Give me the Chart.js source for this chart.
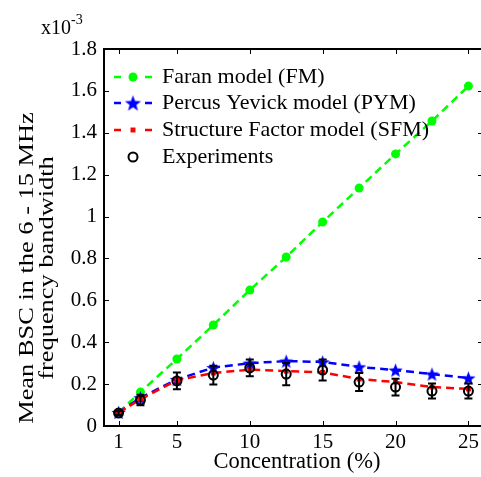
<!DOCTYPE html>
<html>
<head>
<meta charset="utf-8">
<script src="https://cdn.jsdelivr.net/npm/chart.js@4.4.1/dist/chart.umd.min.js"></script>
<style>
html,body{margin:0;padding:0;background:#fff;overflow:hidden;}
#wrap{width:481px;height:477px;overflow:hidden;position:relative;}
canvas{display:block;}
</style>
</head>
<body>
<div id="wrap"><canvas id="c" width="484" height="477"></canvas></div>
<script>
// ---- data (BSC values in units of 1e-3) ----
const concentration = [1, 2.5, 5, 7.5, 10, 12.5, 15, 17.5, 20, 22.5, 25];
const faranFM      = [0.065, 0.162, 0.320, 0.482, 0.649, 0.807, 0.974, 1.136, 1.299, 1.456, 1.623];
const percusPYM    = [0.065, 0.135, 0.222, 0.279, 0.300, 0.310, 0.306, 0.282, 0.267, 0.248, 0.229];
const structSFM    = [0.063, 0.128, 0.218, 0.253, 0.269, 0.262, 0.256, 0.224, 0.210, 0.186, 0.177];
const experiments  = [0.062, 0.124, 0.215, 0.243, 0.277, 0.248, 0.267, 0.210, 0.186, 0.167, 0.167];
const expError     = [0.010, 0.025, 0.040, 0.045, 0.040, 0.053, 0.050, 0.043, 0.040, 0.036, 0.036];
const xTickLabels  = [1, 5, 10, 15, 20, 25];
const yTickLabels  = [0, 0.2, 0.4, 0.6, 0.8, 1, 1.2, 1.4, 1.6, 1.8];
const seriesNames  = ['Faran model (FM)', 'Percus Yevick model (PYM)', 'Structure Factor model (SFM)', 'Experiments'];
const yTitleLines  = ['Mean BSC in the 6 - 15 MHz', 'frequency bandwidth'];
const xTitle       = 'Concentration (%)';

const FONT = '"Liberation Serif", "Times New Roman", serif';

function makeStar(color, r) {
  const s = Math.ceil(r * 2 + 2);
  const cv = document.createElement('canvas');
  cv.width = s; cv.height = s;
  const g = cv.getContext('2d');
  g.fillStyle = color;
  g.beginPath();
  for (let i = 0; i < 10; i++) {
    const rr = i % 2 === 0 ? r : r * 0.42;
    const a = -Math.PI / 2 + i * Math.PI / 5;
    const px = s / 2 + rr * Math.cos(a), py = s / 2 + rr * Math.sin(a) + 0.8;
    if (i === 0) g.moveTo(px, py); else g.lineTo(px, py);
  }
  g.closePath();
  g.fill();
  return cv;
}
const starImg = makeStar('#0000ff', 7.5);
const starLegendImg = makeStar('#0000ff', 8.5);

const pts = arr => concentration.map((x, i) => ({x: x, y: arr[i]}));

const dash = [8, 5];

const datasets = [
  {label: seriesNames[0], data: pts(faranFM), showLine: true, borderColor: '#00ff00', backgroundColor: '#00ff00',
   borderWidth: 2.5, borderDash: dash, pointStyle: 'circle', pointRadius: 4.5, pointBorderWidth: 0, order: 4},
  {label: seriesNames[1], data: pts(percusPYM), showLine: true, borderColor: '#0000ff', backgroundColor: '#0000ff',
   borderWidth: 2.5, borderDash: dash, pointStyle: starImg, pointRadius: 7, order: 3, legendStyle: starLegendImg},
  {label: seriesNames[2], data: pts(structSFM), showLine: true, borderColor: '#ff0000', backgroundColor: '#ff0000',
   borderWidth: 2.5, borderDash: dash, pointStyle: 'rect', pointRadius: 3.5, pointBorderWidth: 0, order: 2},
  {label: seriesNames[3], data: pts(experiments), showLine: false, borderColor: '#000000', backgroundColor: 'rgba(0,0,0,0)',
   pointStyle: 'circle', pointRadius: 4.5, pointBorderWidth: 2, order: 1, errors: expError}
];

const framePlugin = {
  id: 'frame',
  afterDatasetsDraw(chart) {
    const ctx = chart.ctx, xs = chart.scales.x, ys = chart.scales.y;
    ctx.save();
    const ed = chart.data.datasets[3];
    ctx.strokeStyle = '#000'; ctx.lineWidth = 2;
    ed.data.forEach((p, i) => {
      const e = ed.errors[i];
      const px = xs.getPixelForValue(p.x);
      const y1 = ys.getPixelForValue(p.y - e), y2 = ys.getPixelForValue(p.y + e);
      ctx.beginPath();
      ctx.moveTo(px, y1); ctx.lineTo(px, y2);
      ctx.moveTo(px - 4, y1); ctx.lineTo(px + 4, y1);
      ctx.moveTo(px - 4, y2); ctx.lineTo(px + 4, y2);
      ctx.stroke();
    });
    ctx.restore();
  },
  afterDraw(chart) {
    const ctx = chart.ctx, xs = chart.scales.x, ys = chart.scales.y;
    const a = chart.chartArea;
    ctx.save();
    ctx.strokeStyle = '#000';
    ctx.lineWidth = 1;
    const tl = 5;
    xTickLabels.forEach(v => {
      const px = Math.round(xs.getPixelForValue(v)) + 0.5;
      ctx.beginPath();
      ctx.moveTo(px, a.bottom); ctx.lineTo(px, a.bottom - tl);
      ctx.moveTo(px, a.top); ctx.lineTo(px, a.top + tl);
      ctx.stroke();
    });
    yTickLabels.forEach(v => {
      const py = Math.round(ys.getPixelForValue(v)) + 0.5;
      ctx.beginPath();
      ctx.moveTo(a.left, py); ctx.lineTo(a.left + tl, py);
      ctx.moveTo(a.right, py); ctx.lineTo(a.right - tl, py);
      ctx.stroke();
    });
    // frame: left, bottom, top (right edge falls outside the cropped figure)
    ctx.lineWidth = 2;
    ctx.beginPath();
    ctx.moveTo(a.right + 2, a.top); ctx.lineTo(a.left, a.top);
    ctx.lineTo(a.left, a.bottom); ctx.lineTo(a.right + 2, a.bottom);
    ctx.stroke();

    // multiplier label
    ctx.fillStyle = '#000';
    ctx.textBaseline = 'alphabetic';
    ctx.textAlign = 'left';
    ctx.font = '20px ' + FONT;
    ctx.fillText('x10', 41, 34);
    const w = ctx.measureText('x10').width;
    ctx.font = '14px ' + FONT;
    ctx.fillText('-3', 41 + w, 24);

    // y title
    ctx.font = '22px ' + FONT;
    ctx.textAlign = 'center';
    ctx.textBaseline = 'alphabetic';
    ctx.save();
    ctx.translate(33, 268);
    ctx.rotate(-Math.PI / 2);
    ctx.scale(1.2, 1);
    ctx.fillText(yTitleLines[0], 0, 0);
    ctx.fillText(yTitleLines[1], 0, 20);
    ctx.restore();

    // x title
    ctx.font = '22.5px ' + FONT;
    ctx.textAlign = 'center';
    ctx.textBaseline = 'middle';
    ctx.fillText(xTitle, 297, 462);

    // legend
    const rows = [77, 103, 130, 157];
    const sx0 = 114, sx1 = 152, mx = 133, tx = 162;
    ctx.font = '22px ' + FONT;
    ctx.textAlign = 'left';
    ctx.textBaseline = 'middle';
    chart.data.datasets.forEach((ds, i) => {
      const y = rows[i];
      if (ds.showLine) {
        ctx.save();
        ctx.strokeStyle = ds.borderColor;
        ctx.lineWidth = ds.borderWidth;
        ctx.beginPath();
        ctx.moveTo(sx0, y); ctx.lineTo(sx0 + 7, y);
        ctx.moveTo(sx1 - 7, y); ctx.lineTo(sx1, y);
        ctx.stroke();
        ctx.restore();
      }
      ctx.save();
      if (typeof ds.pointStyle === 'string') {
        ctx.fillStyle = ds.backgroundColor;
        ctx.strokeStyle = ds.borderColor;
        ctx.lineWidth = ds.pointBorderWidth || 1;
        ctx.beginPath();
        if (ds.pointStyle === 'circle') ctx.arc(mx, y, ds.pointRadius, 0, Math.PI * 2);
        else { const s = Math.SQRT1_2 * ds.pointRadius; ctx.rect(mx - s, y - s, 2 * s, 2 * s); }
        ctx.fill();
        if (ds.pointBorderWidth) ctx.stroke();
      } else {
        Chart.helpers.drawPoint(ctx, {pointStyle: ds.legendStyle || ds.pointStyle, radius: ds.pointRadius, rotation: 0, borderWidth: 0}, mx, y);
      }
      ctx.restore();
      ctx.fillStyle = '#000';
      ctx.fillText(ds.label, tx, y);
    });
    ctx.restore();
  }
};

new Chart(document.getElementById('c'), {
  type: 'scatter',
  data: {datasets: datasets},
  options: {
    responsive: false,
    animation: false,
    events: [],
    layout: {autoPadding: false, padding: {left: 0, top: 49, right: 1, bottom: 0}},
    plugins: {legend: {display: false}, tooltip: {enabled: false}},
    elements: {line: {tension: 0}},
    scales: {
      x: {
        type: 'linear', min: 0, max: 26,
        grid: {display: false, drawTicks: false},
        border: {display: false},
        afterBuildTicks: s => { s.ticks = xTickLabels.map(v => ({value: v})); },
        afterFit: s => { s.height = 51; s.paddingLeft = 0; s.paddingRight = 0; },
        ticks: {color: '#000', font: {family: FONT, size: 21}, padding: 4, maxRotation: 0, autoSkip: false}
      },
      y: {
        type: 'linear', min: 0, max: 1.8,
        grid: {display: false, drawTicks: false},
        border: {display: false},
        afterBuildTicks: s => { s.ticks = yTickLabels.map(v => ({value: v})); },
        afterFit: s => { s.width = 104; s.paddingTop = 0; s.paddingBottom = 0; },
        ticks: {color: '#000', font: {family: FONT, size: 21}, padding: 7, autoSkip: false,
                callback: v => String(Number(v.toFixed(1)))}
      }
    }
  },
  plugins: [framePlugin]
});
</script>
</body>
</html>
